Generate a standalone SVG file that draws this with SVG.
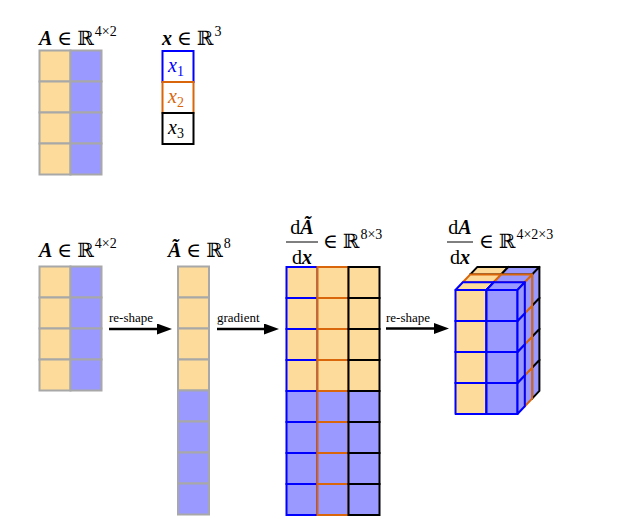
<svg xmlns="http://www.w3.org/2000/svg" xmlns:xlink="http://www.w3.org/1999/xlink" width="631" height="527" viewBox="0 0 631 527">
<style>
  text { font-family: "Liberation Serif", "DejaVu Serif", serif; fill: #000; }
  .m { font-size: 20px; }
  .sup { font-size: 14px; }
  .sub { font-size: 14px; font-style: normal; }
  .bi { font-weight: bold; font-style: italic; }
  .it { font-style: italic; }
  .lbl { font-size: 13px; }
  .g { stroke: #a8a8a8; stroke-width: 2; }
  .co { fill: #fddb9a; }
  .cb { fill: #9999ff; }
  .cw { fill: #ffffff; }
  .sb { stroke: #0000ff; stroke-width: 2; }
  .so { stroke: #d9660a; stroke-width: 2; }
  .sk { stroke: #000000; stroke-width: 2; }
  .cube { stroke-linejoin: round; }
  .arr { stroke: #000; stroke-width: 2.5; fill: none; marker-end: url(#ah); }
</style>
<defs>
  <marker id="ah" markerUnits="userSpaceOnUse" markerWidth="16" markerHeight="12" refX="8" refY="5.5" orient="auto">
    <path d="M0,0 L15,5.5 L0,11 Z" fill="#000"/>
  </marker>
  <g id="cube">
    <rect x="0" y="0" width="31" height="31"/>
    <polygon points="0,0 7.3,-7.7 38.3,-7.7 31,0"/>
    <polygon points="31,0 38.3,-7.7 38.3,23.3 31,31"/>
  </g>
</defs>

<!-- Top-left: matrix A -->
<g id="A-top">
  <text class="m" x="39" y="45"><tspan class="bi">A</tspan><tspan dx="5">∈</tspan><tspan dx="5">ℝ</tspan><tspan class="sup" dx="1" dy="-9">4×2</tspan></text>
  <g class="g">
    <rect class="co" x="39.5" y="50.5" width="31" height="31"/>
    <rect class="cb" x="70.5" y="50.5" width="31" height="31"/>
    <rect class="co" x="39.5" y="81.5" width="31" height="31"/>
    <rect class="cb" x="70.5" y="81.5" width="31" height="31"/>
    <rect class="co" x="39.5" y="112.5" width="31" height="31"/>
    <rect class="cb" x="70.5" y="112.5" width="31" height="31"/>
    <rect class="co" x="39.5" y="143.5" width="31" height="31"/>
    <rect class="cb" x="70.5" y="143.5" width="31" height="31"/>
  </g>
</g>

<!-- Top: vector x -->
<g id="x-top">
  <text class="m" x="162" y="45"><tspan class="bi">x</tspan><tspan dx="5">∈</tspan><tspan dx="5">ℝ</tspan><tspan class="sup" dx="1" dy="-9">3</tspan></text>
  <rect class="cw sb" x="162.5" y="51" width="31" height="31"/>
  <rect class="cw so" x="162.5" y="82" width="31" height="31"/>
  <rect class="cw sk" x="162.5" y="113" width="31" height="31"/>
  <text class="m it" x="168" y="72" style="fill:#0000ff">x<tspan class="sub" dy="4">1</tspan></text>
  <text class="m it" x="168" y="103" style="fill:#d9660a">x<tspan class="sub" dy="4">2</tspan></text>
  <text class="m it" x="168" y="134">x<tspan class="sub" dy="4">3</tspan></text>
</g>

<!-- Bottom: matrix A -->
<g id="A-bottom">
  <text class="m" x="39" y="257"><tspan class="bi">A</tspan><tspan dx="5">∈</tspan><tspan dx="5">ℝ</tspan><tspan class="sup" dx="1" dy="-9">4×2</tspan></text>
  <g class="g">
    <rect class="co" x="39.5" y="266.5" width="31" height="31"/>
    <rect class="cb" x="70.5" y="266.5" width="31" height="31"/>
    <rect class="co" x="39.5" y="297.5" width="31" height="31"/>
    <rect class="cb" x="70.5" y="297.5" width="31" height="31"/>
    <rect class="co" x="39.5" y="328.5" width="31" height="31"/>
    <rect class="cb" x="70.5" y="328.5" width="31" height="31"/>
    <rect class="co" x="39.5" y="359.5" width="31" height="31"/>
    <rect class="cb" x="70.5" y="359.5" width="31" height="31"/>
  </g>
</g>

<!-- A tilde vector -->
<g id="Atilde">
  <text class="m" x="168" y="257"><tspan class="bi">Ã</tspan><tspan dx="5">∈</tspan><tspan dx="5">ℝ</tspan><tspan class="sup" dx="1" dy="-9">8</tspan></text>
  <g class="g">
    <rect class="co" x="178" y="266.5" width="31" height="31"/>
    <rect class="co" x="178" y="297.5" width="31" height="31"/>
    <rect class="co" x="178" y="328.5" width="31" height="31"/>
    <rect class="co" x="178" y="359.5" width="31" height="31"/>
    <rect class="cb" x="178" y="390.5" width="31" height="31"/>
    <rect class="cb" x="178" y="421.5" width="31" height="31"/>
    <rect class="cb" x="178" y="452.5" width="31" height="31"/>
    <rect class="cb" x="178" y="483.5" width="31" height="31"/>
  </g>
</g>

<!-- Jacobian dAtilde/dx -->
<g id="dAtilde-dx">
  <text class="m" x="302" y="234" text-anchor="middle">d<tspan class="bi">Ã</tspan></text>
  <line x1="286" y1="242" x2="318" y2="242" stroke="#000" stroke-width="1"/>
  <text class="m" x="302" y="264" text-anchor="middle">d<tspan class="bi">x</tspan></text>
  <text class="m" x="323" y="248">∈<tspan dx="5">ℝ</tspan><tspan class="sup" dx="1" dy="-9">8×3</tspan></text>
  <g class="sb">
    <rect class="co" x="286.5" y="267" width="31" height="31"/>
    <rect class="co" x="286.5" y="298" width="31" height="31"/>
    <rect class="co" x="286.5" y="329" width="31" height="31"/>
    <rect class="co" x="286.5" y="360" width="31" height="31"/>
    <rect class="cb" x="286.5" y="391" width="31" height="31"/>
    <rect class="cb" x="286.5" y="422" width="31" height="31"/>
    <rect class="cb" x="286.5" y="453" width="31" height="31"/>
    <rect class="cb" x="286.5" y="484" width="31" height="31"/>
  </g>
  <g class="so">
    <rect class="co" x="317.5" y="267" width="31" height="31"/>
    <rect class="co" x="317.5" y="298" width="31" height="31"/>
    <rect class="co" x="317.5" y="329" width="31" height="31"/>
    <rect class="co" x="317.5" y="360" width="31" height="31"/>
    <rect class="cb" x="317.5" y="391" width="31" height="31"/>
    <rect class="cb" x="317.5" y="422" width="31" height="31"/>
    <rect class="cb" x="317.5" y="453" width="31" height="31"/>
    <rect class="cb" x="317.5" y="484" width="31" height="31"/>
  </g>
  <g class="sk">
    <rect class="co" x="348.5" y="267" width="31" height="31"/>
    <rect class="co" x="348.5" y="298" width="31" height="31"/>
    <rect class="co" x="348.5" y="329" width="31" height="31"/>
    <rect class="co" x="348.5" y="360" width="31" height="31"/>
    <rect class="cb" x="348.5" y="391" width="31" height="31"/>
    <rect class="cb" x="348.5" y="422" width="31" height="31"/>
    <rect class="cb" x="348.5" y="453" width="31" height="31"/>
    <rect class="cb" x="348.5" y="484" width="31" height="31"/>
  </g>
</g>

<!-- Tensor dA/dx -->
<g id="dA-dx">
  <text class="m" x="460" y="234" text-anchor="middle">d<tspan class="bi">A</tspan></text>
  <line x1="447" y1="242" x2="473" y2="242" stroke="#000" stroke-width="1"/>
  <text class="m" x="460" y="264" text-anchor="middle">d<tspan class="bi">x</tspan></text>
  <text class="m" x="479" y="248">∈<tspan dx="5">ℝ</tspan><tspan class="sup" dx="1" dy="-9">4×2×3</tspan></text>
  <g class="cube">
    <!-- back layer (black) -->
    <use xlink:href="#cube" class="co sk" x="470.1" y="367.6"/>
    <use xlink:href="#cube" class="cb sk" x="501.1" y="367.6"/>
    <use xlink:href="#cube" class="co sk" x="470.1" y="336.6"/>
    <use xlink:href="#cube" class="cb sk" x="501.1" y="336.6"/>
    <use xlink:href="#cube" class="co sk" x="470.1" y="305.6"/>
    <use xlink:href="#cube" class="cb sk" x="501.1" y="305.6"/>
    <use xlink:href="#cube" class="co sk" x="470.1" y="274.6"/>
    <use xlink:href="#cube" class="cb sk" x="501.1" y="274.6"/>
    <!-- middle layer (orange) -->
    <use xlink:href="#cube" class="co so" x="462.8" y="375.3"/>
    <use xlink:href="#cube" class="cb so" x="493.8" y="375.3"/>
    <use xlink:href="#cube" class="co so" x="462.8" y="344.3"/>
    <use xlink:href="#cube" class="cb so" x="493.8" y="344.3"/>
    <use xlink:href="#cube" class="co so" x="462.8" y="313.3"/>
    <use xlink:href="#cube" class="cb so" x="493.8" y="313.3"/>
    <use xlink:href="#cube" class="co so" x="462.8" y="282.3"/>
    <use xlink:href="#cube" class="cb so" x="493.8" y="282.3"/>
    <!-- front layer (blue) -->
    <use xlink:href="#cube" class="co sb" x="455.5" y="383"/>
    <use xlink:href="#cube" class="cb sb" x="486.5" y="383"/>
    <use xlink:href="#cube" class="co sb" x="455.5" y="352"/>
    <use xlink:href="#cube" class="cb sb" x="486.5" y="352"/>
    <use xlink:href="#cube" class="co sb" x="455.5" y="321"/>
    <use xlink:href="#cube" class="cb sb" x="486.5" y="321"/>
    <use xlink:href="#cube" class="co sb" x="455.5" y="290"/>
    <use xlink:href="#cube" class="cb sb" x="486.5" y="290"/>
  </g>
</g>

<!-- Connectors -->
<g id="connectors">
  <line class="arr" x1="109" y1="329" x2="165" y2="329"/>
  <text class="lbl" x="109" y="322">re-shape</text>
  <line class="arr" x1="217" y1="329" x2="272" y2="329"/>
  <text class="lbl" x="217" y="322">gradient</text>
  <line class="arr" x1="386" y1="328.5" x2="442" y2="328.5"/>
  <text class="lbl" x="386" y="322">re-shape</text>
</g>
</svg>
